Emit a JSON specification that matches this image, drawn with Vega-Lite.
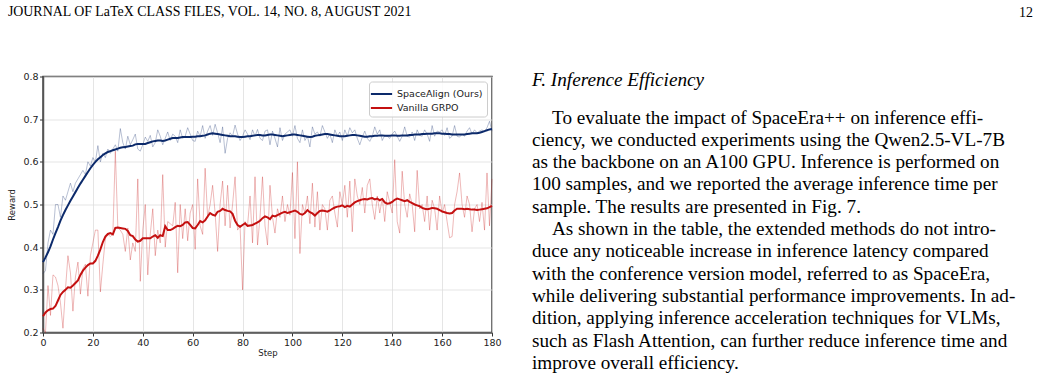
{
  "$schema": "https://vega.github.io/schema/vega-lite/v6.json",
  "background": "white",
  "padding": {"left": 7, "top": 3.5, "right": 0, "bottom": 0},
  "bounds": "flush",
  "spacing": 40,
  "resolve": {"scale": {"color": "independent"}, "legend": {"color": "independent"}},
  "datasets": {
    "training": [
{"step":0,"space_raw":0.338,"space_smooth":0.365,"grpo_raw":0.21,"grpo_smooth":0.238},
{"step":1,"space_raw":0.345,"space_smooth":0.376,"grpo_raw":0.20,"grpo_smooth":0.247},
{"step":2,"space_raw":0.41,"space_smooth":0.388,"grpo_raw":0.31,"grpo_smooth":0.252},
{"step":3,"space_raw":0.44,"space_smooth":0.402,"grpo_raw":0.24,"grpo_smooth":0.255},
{"step":4,"space_raw":0.43,"space_smooth":0.418,"grpo_raw":0.335,"grpo_smooth":0.256},
{"step":5,"space_raw":0.50,"space_smooth":0.433,"grpo_raw":0.33,"grpo_smooth":0.262},
{"step":6,"space_raw":0.50,"space_smooth":0.447,"grpo_raw":0.31,"grpo_smooth":0.275},
{"step":7,"space_raw":0.47,"space_smooth":0.462,"grpo_raw":0.27,"grpo_smooth":0.288},
{"step":8,"space_raw":0.52,"space_smooth":0.475,"grpo_raw":0.21,"grpo_smooth":0.295},
{"step":9,"space_raw":0.51,"space_smooth":0.487,"grpo_raw":0.30,"grpo_smooth":0.300},
{"step":10,"space_raw":0.53,"space_smooth":0.498,"grpo_raw":0.38,"grpo_smooth":0.306},
{"step":11,"space_raw":0.55,"space_smooth":0.509,"grpo_raw":0.34,"grpo_smooth":0.305},
{"step":12,"space_raw":0.53,"space_smooth":0.519,"grpo_raw":0.25,"grpo_smooth":0.310},
{"step":13,"space_raw":0.55,"space_smooth":0.529,"grpo_raw":0.33,"grpo_smooth":0.316},
{"step":14,"space_raw":0.56,"space_smooth":0.539,"grpo_raw":0.365,"grpo_smooth":0.322},
{"step":15,"space_raw":0.57,"space_smooth":0.549,"grpo_raw":0.29,"grpo_smooth":0.335},
{"step":16,"space_raw":0.58,"space_smooth":0.558,"grpo_raw":0.35,"grpo_smooth":0.345},
{"step":17,"space_raw":0.57,"space_smooth":0.567,"grpo_raw":0.36,"grpo_smooth":0.352},
{"step":18,"space_raw":0.60,"space_smooth":0.576,"grpo_raw":0.285,"grpo_smooth":0.358},
{"step":19,"space_raw":0.59,"space_smooth":0.585,"grpo_raw":0.38,"grpo_smooth":0.362},
{"step":20,"space_raw":0.61,"space_smooth":0.593,"grpo_raw":0.41,"grpo_smooth":0.362},
{"step":21,"space_raw":0.60,"space_smooth":0.600,"grpo_raw":0.44,"grpo_smooth":0.368},
{"step":22,"space_raw":0.638,"space_smooth":0.606,"grpo_raw":0.44,"grpo_smooth":0.380},
{"step":23,"space_raw":0.60,"space_smooth":0.611,"grpo_raw":0.295,"grpo_smooth":0.395},
{"step":24,"space_raw":0.62,"space_smooth":0.616,"grpo_raw":0.36,"grpo_smooth":0.412},
{"step":25,"space_raw":0.61,"space_smooth":0.620,"grpo_raw":0.42,"grpo_smooth":0.425},
{"step":26,"space_raw":0.63,"space_smooth":0.623,"grpo_raw":0.43,"grpo_smooth":0.431},
{"step":27,"space_raw":0.62,"space_smooth":0.625,"grpo_raw":0.425,"grpo_smooth":0.433},
{"step":28,"space_raw":0.63,"space_smooth":0.627,"grpo_raw":0.43,"grpo_smooth":0.430},
{"step":29,"space_raw":0.64,"space_smooth":0.629,"grpo_raw":0.625,"grpo_smooth":0.445},
{"step":30,"space_raw":0.625,"space_smooth":0.631,"grpo_raw":0.445,"grpo_smooth":0.446},
{"step":31,"space_raw":0.678,"space_smooth":0.633,"grpo_raw":0.44,"grpo_smooth":0.445},
{"step":32,"space_raw":0.645,"space_smooth":0.634,"grpo_raw":0.43,"grpo_smooth":0.444},
{"step":33,"space_raw":0.63,"space_smooth":0.635,"grpo_raw":0.39,"grpo_smooth":0.443},
{"step":34,"space_raw":0.66,"space_smooth":0.636,"grpo_raw":0.445,"grpo_smooth":0.438},
{"step":35,"space_raw":0.64,"space_smooth":0.637,"grpo_raw":0.37,"grpo_smooth":0.428},
{"step":36,"space_raw":0.652,"space_smooth":0.638,"grpo_raw":0.41,"grpo_smooth":0.426},
{"step":37,"space_raw":0.665,"space_smooth":0.641,"grpo_raw":0.39,"grpo_smooth":0.418},
{"step":38,"space_raw":0.63,"space_smooth":0.642,"grpo_raw":0.56,"grpo_smooth":0.413},
{"step":39,"space_raw":0.625,"space_smooth":0.642,"grpo_raw":0.32,"grpo_smooth":0.415},
{"step":40,"space_raw":0.64,"space_smooth":0.642,"grpo_raw":0.44,"grpo_smooth":0.421},
{"step":41,"space_raw":0.658,"space_smooth":0.642,"grpo_raw":0.50,"grpo_smooth":0.421},
{"step":42,"space_raw":0.648,"space_smooth":0.644,"grpo_raw":0.335,"grpo_smooth":0.421},
{"step":43,"space_raw":0.662,"space_smooth":0.646,"grpo_raw":0.43,"grpo_smooth":0.421},
{"step":44,"space_raw":0.635,"space_smooth":0.648,"grpo_raw":0.49,"grpo_smooth":0.425},
{"step":45,"space_raw":0.645,"space_smooth":0.649,"grpo_raw":0.38,"grpo_smooth":0.428},
{"step":46,"space_raw":0.675,"space_smooth":0.650,"grpo_raw":0.44,"grpo_smooth":0.422},
{"step":47,"space_raw":0.66,"space_smooth":0.650,"grpo_raw":0.41,"grpo_smooth":0.428},
{"step":48,"space_raw":0.64,"space_smooth":0.649,"grpo_raw":0.57,"grpo_smooth":0.426},
{"step":49,"space_raw":0.655,"space_smooth":0.650,"grpo_raw":0.40,"grpo_smooth":0.449},
{"step":50,"space_raw":0.67,"space_smooth":0.652,"grpo_raw":0.46,"grpo_smooth":0.440},
{"step":51,"space_raw":0.65,"space_smooth":0.654,"grpo_raw":0.455,"grpo_smooth":0.440},
{"step":52,"space_raw":0.665,"space_smooth":0.656,"grpo_raw":0.45,"grpo_smooth":0.443},
{"step":53,"space_raw":0.66,"space_smooth":0.656,"grpo_raw":0.505,"grpo_smooth":0.447},
{"step":54,"space_raw":0.645,"space_smooth":0.656,"grpo_raw":0.34,"grpo_smooth":0.450},
{"step":55,"space_raw":0.675,"space_smooth":0.657,"grpo_raw":0.50,"grpo_smooth":0.449},
{"step":56,"space_raw":0.655,"space_smooth":0.658,"grpo_raw":0.42,"grpo_smooth":0.452},
{"step":57,"space_raw":0.66,"space_smooth":0.658,"grpo_raw":0.49,"grpo_smooth":0.458},
{"step":58,"space_raw":0.68,"space_smooth":0.658,"grpo_raw":0.415,"grpo_smooth":0.459},
{"step":59,"space_raw":0.665,"space_smooth":0.658,"grpo_raw":0.48,"grpo_smooth":0.452},
{"step":60,"space_raw":0.65,"space_smooth":0.659,"grpo_raw":0.50,"grpo_smooth":0.445},
{"step":61,"space_raw":0.648,"space_smooth":0.659,"grpo_raw":0.395,"grpo_smooth":0.444},
{"step":62,"space_raw":0.672,"space_smooth":0.660,"grpo_raw":0.56,"grpo_smooth":0.452},
{"step":63,"space_raw":0.66,"space_smooth":0.660,"grpo_raw":0.45,"grpo_smooth":0.461},
{"step":64,"space_raw":0.685,"space_smooth":0.661,"grpo_raw":0.43,"grpo_smooth":0.458},
{"step":65,"space_raw":0.655,"space_smooth":0.662,"grpo_raw":0.585,"grpo_smooth":0.463},
{"step":66,"space_raw":0.672,"space_smooth":0.664,"grpo_raw":0.47,"grpo_smooth":0.472},
{"step":67,"space_raw":0.685,"space_smooth":0.666,"grpo_raw":0.50,"grpo_smooth":0.480},
{"step":68,"space_raw":0.662,"space_smooth":0.667,"grpo_raw":0.545,"grpo_smooth":0.476},
{"step":69,"space_raw":0.688,"space_smooth":0.666,"grpo_raw":0.48,"grpo_smooth":0.474},
{"step":70,"space_raw":0.668,"space_smooth":0.665,"grpo_raw":0.39,"grpo_smooth":0.483},
{"step":71,"space_raw":0.645,"space_smooth":0.664,"grpo_raw":0.50,"grpo_smooth":0.485},
{"step":72,"space_raw":0.682,"space_smooth":0.663,"grpo_raw":0.555,"grpo_smooth":0.490},
{"step":73,"space_raw":0.62,"space_smooth":0.662,"grpo_raw":0.45,"grpo_smooth":0.487},
{"step":74,"space_raw":0.655,"space_smooth":0.661,"grpo_raw":0.545,"grpo_smooth":0.485},
{"step":75,"space_raw":0.668,"space_smooth":0.660,"grpo_raw":0.445,"grpo_smooth":0.484},
{"step":76,"space_raw":0.66,"space_smooth":0.660,"grpo_raw":0.50,"grpo_smooth":0.478},
{"step":77,"space_raw":0.686,"space_smooth":0.660,"grpo_raw":0.565,"grpo_smooth":0.462},
{"step":78,"space_raw":0.665,"space_smooth":0.659,"grpo_raw":0.44,"grpo_smooth":0.452},
{"step":79,"space_raw":0.65,"space_smooth":0.658,"grpo_raw":0.45,"grpo_smooth":0.448},
{"step":80,"space_raw":0.66,"space_smooth":0.658,"grpo_raw":0.30,"grpo_smooth":0.452},
{"step":81,"space_raw":0.675,"space_smooth":0.659,"grpo_raw":0.46,"grpo_smooth":0.456},
{"step":82,"space_raw":0.665,"space_smooth":0.660,"grpo_raw":0.45,"grpo_smooth":0.450},
{"step":83,"space_raw":0.652,"space_smooth":0.660,"grpo_raw":0.52,"grpo_smooth":0.451},
{"step":84,"space_raw":0.675,"space_smooth":0.661,"grpo_raw":0.41,"grpo_smooth":0.452},
{"step":85,"space_raw":0.66,"space_smooth":0.662,"grpo_raw":0.565,"grpo_smooth":0.455},
{"step":86,"space_raw":0.676,"space_smooth":0.663,"grpo_raw":0.405,"grpo_smooth":0.458},
{"step":87,"space_raw":0.655,"space_smooth":0.663,"grpo_raw":0.47,"grpo_smooth":0.462},
{"step":88,"space_raw":0.65,"space_smooth":0.662,"grpo_raw":0.565,"grpo_smooth":0.468},
{"step":89,"space_raw":0.672,"space_smooth":0.662,"grpo_raw":0.45,"grpo_smooth":0.472},
{"step":90,"space_raw":0.675,"space_smooth":0.663,"grpo_raw":0.405,"grpo_smooth":0.470},
{"step":91,"space_raw":0.64,"space_smooth":0.664,"grpo_raw":0.545,"grpo_smooth":0.466},
{"step":92,"space_raw":0.672,"space_smooth":0.664,"grpo_raw":0.47,"grpo_smooth":0.474},
{"step":93,"space_raw":0.655,"space_smooth":0.663,"grpo_raw":0.433,"grpo_smooth":0.472},
{"step":94,"space_raw":0.635,"space_smooth":0.662,"grpo_raw":0.49,"grpo_smooth":0.475},
{"step":95,"space_raw":0.68,"space_smooth":0.661,"grpo_raw":0.47,"grpo_smooth":0.478},
{"step":96,"space_raw":0.65,"space_smooth":0.660,"grpo_raw":0.52,"grpo_smooth":0.481},
{"step":97,"space_raw":0.665,"space_smooth":0.661,"grpo_raw":0.46,"grpo_smooth":0.483},
{"step":98,"space_raw":0.67,"space_smooth":0.662,"grpo_raw":0.50,"grpo_smooth":0.480},
{"step":99,"space_raw":0.675,"space_smooth":0.663,"grpo_raw":0.475,"grpo_smooth":0.482},
{"step":100,"space_raw":0.66,"space_smooth":0.664,"grpo_raw":0.575,"grpo_smooth":0.484},
{"step":101,"space_raw":0.685,"space_smooth":0.664,"grpo_raw":0.42,"grpo_smooth":0.486},
{"step":102,"space_raw":0.655,"space_smooth":0.663,"grpo_raw":0.60,"grpo_smooth":0.483},
{"step":103,"space_raw":0.645,"space_smooth":0.662,"grpo_raw":0.385,"grpo_smooth":0.478},
{"step":104,"space_raw":0.675,"space_smooth":0.661,"grpo_raw":0.50,"grpo_smooth":0.476},
{"step":105,"space_raw":0.65,"space_smooth":0.660,"grpo_raw":0.48,"grpo_smooth":0.480},
{"step":106,"space_raw":0.66,"space_smooth":0.659,"grpo_raw":0.52,"grpo_smooth":0.487},
{"step":107,"space_raw":0.635,"space_smooth":0.658,"grpo_raw":0.455,"grpo_smooth":0.482},
{"step":108,"space_raw":0.682,"space_smooth":0.659,"grpo_raw":0.55,"grpo_smooth":0.479},
{"step":109,"space_raw":0.665,"space_smooth":0.661,"grpo_raw":0.447,"grpo_smooth":0.474},
{"step":110,"space_raw":0.67,"space_smooth":0.662,"grpo_raw":0.53,"grpo_smooth":0.480},
{"step":111,"space_raw":0.66,"space_smooth":0.663,"grpo_raw":0.44,"grpo_smooth":0.485},
{"step":112,"space_raw":0.685,"space_smooth":0.664,"grpo_raw":0.50,"grpo_smooth":0.486},
{"step":113,"space_raw":0.67,"space_smooth":0.665,"grpo_raw":0.49,"grpo_smooth":0.485},
{"step":114,"space_raw":0.655,"space_smooth":0.665,"grpo_raw":0.44,"grpo_smooth":0.483},
{"step":115,"space_raw":0.665,"space_smooth":0.664,"grpo_raw":0.51,"grpo_smooth":0.486},
{"step":116,"space_raw":0.645,"space_smooth":0.663,"grpo_raw":0.52,"grpo_smooth":0.490},
{"step":117,"space_raw":0.675,"space_smooth":0.662,"grpo_raw":0.48,"grpo_smooth":0.493},
{"step":118,"space_raw":0.66,"space_smooth":0.661,"grpo_raw":0.447,"grpo_smooth":0.495},
{"step":119,"space_raw":0.67,"space_smooth":0.660,"grpo_raw":0.53,"grpo_smooth":0.496},
{"step":120,"space_raw":0.65,"space_smooth":0.660,"grpo_raw":0.50,"grpo_smooth":0.498},
{"step":121,"space_raw":0.675,"space_smooth":0.660,"grpo_raw":0.545,"grpo_smooth":0.494},
{"step":122,"space_raw":0.66,"space_smooth":0.661,"grpo_raw":0.47,"grpo_smooth":0.497},
{"step":123,"space_raw":0.68,"space_smooth":0.662,"grpo_raw":0.555,"grpo_smooth":0.495},
{"step":124,"space_raw":0.668,"space_smooth":0.663,"grpo_raw":0.436,"grpo_smooth":0.500},
{"step":125,"space_raw":0.675,"space_smooth":0.663,"grpo_raw":0.56,"grpo_smooth":0.505},
{"step":126,"space_raw":0.655,"space_smooth":0.662,"grpo_raw":0.52,"grpo_smooth":0.508},
{"step":127,"space_raw":0.64,"space_smooth":0.661,"grpo_raw":0.50,"grpo_smooth":0.510},
{"step":128,"space_raw":0.658,"space_smooth":0.660,"grpo_raw":0.54,"grpo_smooth":0.512},
{"step":129,"space_raw":0.672,"space_smooth":0.659,"grpo_raw":0.48,"grpo_smooth":0.513},
{"step":130,"space_raw":0.655,"space_smooth":0.659,"grpo_raw":0.545,"grpo_smooth":0.512},
{"step":131,"space_raw":0.648,"space_smooth":0.660,"grpo_raw":0.56,"grpo_smooth":0.514},
{"step":132,"space_raw":0.66,"space_smooth":0.660,"grpo_raw":0.50,"grpo_smooth":0.515},
{"step":133,"space_raw":0.682,"space_smooth":0.661,"grpo_raw":0.465,"grpo_smooth":0.512},
{"step":134,"space_raw":0.665,"space_smooth":0.661,"grpo_raw":0.52,"grpo_smooth":0.514},
{"step":135,"space_raw":0.675,"space_smooth":0.662,"grpo_raw":0.48,"grpo_smooth":0.510},
{"step":136,"space_raw":0.65,"space_smooth":0.662,"grpo_raw":0.515,"grpo_smooth":0.513},
{"step":137,"space_raw":0.662,"space_smooth":0.661,"grpo_raw":0.46,"grpo_smooth":0.505},
{"step":138,"space_raw":0.66,"space_smooth":0.661,"grpo_raw":0.53,"grpo_smooth":0.502},
{"step":139,"space_raw":0.655,"space_smooth":0.661,"grpo_raw":0.505,"grpo_smooth":0.503},
{"step":140,"space_raw":0.665,"space_smooth":0.662,"grpo_raw":0.48,"grpo_smooth":0.506},
{"step":141,"space_raw":0.672,"space_smooth":0.662,"grpo_raw":0.605,"grpo_smooth":0.511},
{"step":142,"space_raw":0.66,"space_smooth":0.661,"grpo_raw":0.46,"grpo_smooth":0.514},
{"step":143,"space_raw":0.648,"space_smooth":0.661,"grpo_raw":0.433,"grpo_smooth":0.512},
{"step":144,"space_raw":0.66,"space_smooth":0.662,"grpo_raw":0.578,"grpo_smooth":0.510},
{"step":145,"space_raw":0.682,"space_smooth":0.662,"grpo_raw":0.50,"grpo_smooth":0.508},
{"step":146,"space_raw":0.66,"space_smooth":0.662,"grpo_raw":0.47,"grpo_smooth":0.510},
{"step":147,"space_raw":0.658,"space_smooth":0.663,"grpo_raw":0.525,"grpo_smooth":0.506},
{"step":148,"space_raw":0.67,"space_smooth":0.663,"grpo_raw":0.50,"grpo_smooth":0.503},
{"step":149,"space_raw":0.65,"space_smooth":0.664,"grpo_raw":0.436,"grpo_smooth":0.500},
{"step":150,"space_raw":0.675,"space_smooth":0.664,"grpo_raw":0.58,"grpo_smooth":0.498},
{"step":151,"space_raw":0.662,"space_smooth":0.664,"grpo_raw":0.49,"grpo_smooth":0.496},
{"step":152,"space_raw":0.66,"space_smooth":0.665,"grpo_raw":0.50,"grpo_smooth":0.492},
{"step":153,"space_raw":0.675,"space_smooth":0.665,"grpo_raw":0.46,"grpo_smooth":0.490},
{"step":154,"space_raw":0.665,"space_smooth":0.666,"grpo_raw":0.52,"grpo_smooth":0.489},
{"step":155,"space_raw":0.648,"space_smooth":0.666,"grpo_raw":0.44,"grpo_smooth":0.490},
{"step":156,"space_raw":0.685,"space_smooth":0.666,"grpo_raw":0.51,"grpo_smooth":0.492},
{"step":157,"space_raw":0.66,"space_smooth":0.667,"grpo_raw":0.49,"grpo_smooth":0.491},
{"step":158,"space_raw":0.672,"space_smooth":0.667,"grpo_raw":0.44,"grpo_smooth":0.490},
{"step":159,"space_raw":0.67,"space_smooth":0.667,"grpo_raw":0.52,"grpo_smooth":0.487},
{"step":160,"space_raw":0.675,"space_smooth":0.666,"grpo_raw":0.48,"grpo_smooth":0.484},
{"step":161,"space_raw":0.662,"space_smooth":0.666,"grpo_raw":0.50,"grpo_smooth":0.482},
{"step":162,"space_raw":0.68,"space_smooth":0.665,"grpo_raw":0.46,"grpo_smooth":0.480},
{"step":163,"space_raw":0.655,"space_smooth":0.665,"grpo_raw":0.422,"grpo_smooth":0.479},
{"step":164,"space_raw":0.66,"space_smooth":0.664,"grpo_raw":0.425,"grpo_smooth":0.480},
{"step":165,"space_raw":0.685,"space_smooth":0.664,"grpo_raw":0.50,"grpo_smooth":0.486},
{"step":166,"space_raw":0.66,"space_smooth":0.664,"grpo_raw":0.53,"grpo_smooth":0.490},
{"step":167,"space_raw":0.658,"space_smooth":0.664,"grpo_raw":0.574,"grpo_smooth":0.490},
{"step":168,"space_raw":0.665,"space_smooth":0.664,"grpo_raw":0.50,"grpo_smooth":0.490},
{"step":169,"space_raw":0.66,"space_smooth":0.664,"grpo_raw":0.47,"grpo_smooth":0.489},
{"step":170,"space_raw":0.672,"space_smooth":0.665,"grpo_raw":0.52,"grpo_smooth":0.490},
{"step":171,"space_raw":0.68,"space_smooth":0.666,"grpo_raw":0.50,"grpo_smooth":0.489},
{"step":172,"space_raw":0.665,"space_smooth":0.667,"grpo_raw":0.436,"grpo_smooth":0.488},
{"step":173,"space_raw":0.675,"space_smooth":0.667,"grpo_raw":0.49,"grpo_smooth":0.488},
{"step":174,"space_raw":0.668,"space_smooth":0.667,"grpo_raw":0.50,"grpo_smooth":0.487},
{"step":175,"space_raw":0.672,"space_smooth":0.668,"grpo_raw":0.46,"grpo_smooth":0.488},
{"step":176,"space_raw":0.675,"space_smooth":0.670,"grpo_raw":0.505,"grpo_smooth":0.489},
{"step":177,"space_raw":0.67,"space_smooth":0.672,"grpo_raw":0.44,"grpo_smooth":0.490},
{"step":178,"space_raw":0.68,"space_smooth":0.674,"grpo_raw":0.574,"grpo_smooth":0.491},
{"step":179,"space_raw":0.695,"space_smooth":0.676,"grpo_raw":0.45,"grpo_smooth":0.494},
{"step":180,"space_raw":0.672,"space_smooth":0.677,"grpo_raw":0.56,"grpo_smooth":0.497}
    ],
    "heading": [
      {"text": "F. Inference Efficiency"}
    ],
    "page_number": [
      {"text": "12"}
    ],
    "paragraph": [
      {"line": 1, "paragraph_start": true, "text": "To evaluate the impact of SpaceEra++ on inference effi-"},
      {"line": 2, "paragraph_start": false, "text": "ciency, we conducted experiments using the Qwen2.5-VL-7B"},
      {"line": 3, "paragraph_start": false, "text": "as the backbone on an A100 GPU. Inference is performed on"},
      {"line": 4, "paragraph_start": false, "text": "100 samples, and we reported the average inference time per"},
      {"line": 5, "paragraph_start": false, "text": "sample. The results are presented in Fig. 7."},
      {"line": 6, "paragraph_start": true, "text": "As shown in the table, the extended methods do not intro-"},
      {"line": 7, "paragraph_start": false, "text": "duce any noticeable increase in inference latency compared"},
      {"line": 8, "paragraph_start": false, "text": "with the conference version model, referred to as SpaceEra,"},
      {"line": 9, "paragraph_start": false, "text": "while delivering substantial performance improvements. In ad-"},
      {"line": 10, "paragraph_start": false, "text": "dition, applying inference acceleration techniques for VLMs,"},
      {"line": 11, "paragraph_start": false, "text": "such as Flash Attention, can further reduce inference time and"},
      {"line": 12, "paragraph_start": false, "text": "improve overall efficiency."}
    ]
  },
  "hconcat": [
    {
      "width": 449,
      "height": 256,
      "title": {"text": "JOURNAL OF LaTeX CLASS FILES, VOL. 14, NO. 8, AUGUST 2021", "anchor": "start", "frame": "bounds", "font": "Liberation Serif", "fontSize": 13.9, "fontWeight": "normal", "color": "#000", "offset": 53},
      "view": {"stroke": "#444", "strokeWidth": 1.5},
      "data": {"name": "training"},
      "encoding": {
        "x": {"field": "step", "type": "quantitative", "scale": {"domain": [0, 180], "nice": false},
          "axis": {"title": "Step", "values": [0, 20, 40, 60, 80, 100, 120, 140, 160, 180], "labelFont": "DejaVu Sans", "labelFontSize": 9.5, "labelColor": "#222", "titleFont": "DejaVu Sans", "titleFontSize": 8.5, "titleFontWeight": "normal", "titleColor": "#222", "titlePadding": 2, "labelPadding": 1, "tickSize": 3.5, "tickColor": "#333", "domainColor": "#555", "domainWidth": 1.5, "gridColor": "#dedede", "gridWidth": 0.8, "labelFlush": false}}
      },
      "layer": [
        {
          "mark": {"type": "line", "strokeWidth": 0.9, "opacity": 0.33, "color": "#0c2a6b"},
          "encoding": {"y": {"field": "space_raw", "type": "quantitative", "scale": {"domain": [0.2, 0.8], "nice": false, "zero": false},
            "axis": {"title": "Reward", "values": [0.2, 0.3, 0.4, 0.5, 0.6, 0.7, 0.8], "format": ".1f", "labelFont": "DejaVu Sans", "labelFontSize": 9.5, "labelColor": "#222", "titleFont": "DejaVu Sans", "titleFontSize": 8.5, "titleFontWeight": "normal", "titleColor": "#222", "titlePadding": 6, "labelPadding": 1.5, "tickSize": 3.5, "tickColor": "#333", "domainColor": "#555", "domainWidth": 1.5, "gridColor": "#dedede", "gridWidth": 0.8}}}
        },
        {
          "mark": {"type": "line", "strokeWidth": 2},
          "encoding": {
            "y": {"field": "space_smooth", "type": "quantitative"},
            "color": {"datum": "SpaceAlign (Ours)", "type": "nominal",
              "scale": {"domain": ["SpaceAlign (Ours)", "Vanilla GRPO"], "range": ["#0c2a6b", "#c41010"]},
              "legend": {"title": null, "orient": "top-right", "offset": 5, "fillColor": "rgba(255,255,255,0.85)", "strokeColor": "#cccccc", "cornerRadius": 3, "padding": 4, "labelFont": "DejaVu Sans", "labelFontSize": 9.5, "labelColor": "#222", "symbolType": "M-1.5,0L1.5,0", "symbolStrokeWidth": 2, "symbolSize": 200, "labelOffset": 7, "rowPadding": 1}}
          }
        },
        {
          "mark": {"type": "line", "strokeWidth": 0.9, "opacity": 0.33, "color": "#c41010"},
          "encoding": {"y": {"field": "grpo_raw", "type": "quantitative"}}
        },
        {
          "mark": {"type": "line", "strokeWidth": 2},
          "encoding": {
            "y": {"field": "grpo_smooth", "type": "quantitative"},
            "color": {"datum": "Vanilla GRPO", "type": "nominal"}
          }
        }
      ]
    },
    {
      "width": 492,
      "height": 300,
      "view": {"stroke": null},
      "layer": [
        {
          "data": {"name": "heading"},
          "mark": {"type": "text", "align": "left", "baseline": "alphabetic", "font": "Liberation Serif", "fontStyle": "italic", "fontSize": 19.2, "color": "#000"},
          "encoding": {
            "x": {"datum": 0, "type": "quantitative", "scale": {"domain": [0, 1]}, "axis": null},
            "y": {"datum": -0.704, "type": "quantitative", "scale": {"domain": [-1.108, 12.345], "reverse": true, "nice": false, "zero": false}, "axis": null},
            "text": {"field": "text", "type": "nominal"}
          }
        },
        {
          "data": {"name": "page_number"},
          "mark": {"type": "text", "align": "right", "baseline": "alphabetic", "font": "Liberation Serif", "fontSize": 13.9, "color": "#000"},
          "encoding": {
            "x": {"datum": 1.018, "type": "quantitative"},
            "y": {"datum": -3.754, "type": "quantitative"},
            "text": {"field": "text", "type": "nominal"}
          }
        },
        {
          "data": {"name": "paragraph"},
          "transform": [{"filter": "datum.paragraph_start"}],
          "mark": {"type": "text", "align": "left", "baseline": "alphabetic", "font": "Liberation Serif", "fontSize": 19.2, "color": "#000", "dx": 20},
          "encoding": {
            "x": {"datum": 0, "type": "quantitative"},
            "y": {"field": "line", "type": "quantitative"},
            "text": {"field": "text", "type": "nominal"}
          }
        },
        {
          "data": {"name": "paragraph"},
          "transform": [{"filter": "!datum.paragraph_start"}],
          "mark": {"type": "text", "align": "left", "baseline": "alphabetic", "font": "Liberation Serif", "fontSize": 19.2, "color": "#000"},
          "encoding": {
            "x": {"datum": 0, "type": "quantitative"},
            "y": {"field": "line", "type": "quantitative"},
            "text": {"field": "text", "type": "nominal"}
          }
        }
      ]
    }
  ]
}
